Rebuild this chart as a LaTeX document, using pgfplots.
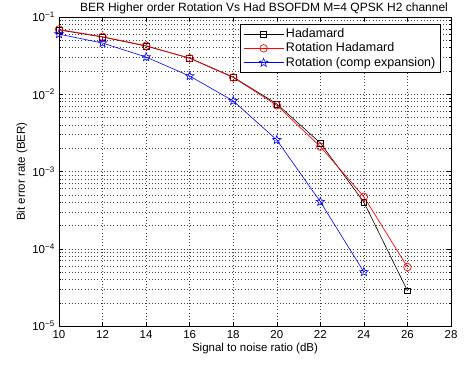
\documentclass[border=0pt]{standalone}
\usepackage{fontspec}
\setmainfont{Liberation Sans}
\usepackage{pgfplots}
\pgfplotsset{compat=1.18}
\pgfdeclareplotmark{pentagram}{%
  \pgfpathmoveto{\pgfqpointpolar{90}{\pgfplotmarksize}}%
  \pgfpathlineto{\pgfqpointpolar{126}{0.42\pgfplotmarksize}}%
  \pgfpathlineto{\pgfqpointpolar{162}{\pgfplotmarksize}}%
  \pgfpathlineto{\pgfqpointpolar{198}{0.42\pgfplotmarksize}}%
  \pgfpathlineto{\pgfqpointpolar{234}{\pgfplotmarksize}}%
  \pgfpathlineto{\pgfqpointpolar{270}{0.42\pgfplotmarksize}}%
  \pgfpathlineto{\pgfqpointpolar{306}{\pgfplotmarksize}}%
  \pgfpathlineto{\pgfqpointpolar{342}{0.42\pgfplotmarksize}}%
  \pgfpathlineto{\pgfqpointpolar{18}{\pgfplotmarksize}}%
  \pgfpathlineto{\pgfqpointpolar{54}{0.42\pgfplotmarksize}}%
  \pgfpathclose
  \pgfusepathqstroke
}
\begin{document}
\fontsize{12}{14}\selectfont
\begin{tikzpicture}
\begin{axis}[
  name=ax,
  scale only axis,
  width=392pt, height=309pt,
  xmin=10, xmax=28, ymin=1e-5, ymax=1e-1,
  ymode=log,
  xtick={10,12,...,28},
  ytick={1e-5,1e-4,1e-3,1e-2,1e-1},
  yticklabels={10\textsuperscript{−5},10\textsuperscript{−4},10\textsuperscript{−3},10\textsuperscript{−2},10\textsuperscript{−1}},
  /pgf/number format/assume math mode=true,
  tick align=inside,
  tick style={black, line width=0.5pt},
  major tick length=4pt, minor tick length=2pt,
  grid=both,
  major grid style={black!75, dash pattern=on 0.6pt off 2.6pt, line width=0.5pt},
  minor grid style={black!75, dash pattern=on 0.6pt off 2.6pt, line width=0.5pt},
  minor x tick num=0,
  axis line style={black, line width=0.9pt},
  tick label style={font=\fontsize{11.5}{13}\selectfont},
  label style={font=\fontsize{11.5}{13}\selectfont},
  xlabel={Signal to noise ratio (dB)},
  ylabel={Bit error rate (BER)},
  xlabel style={yshift=3pt},
  ylabel style={yshift=-3pt},
  title={BER Higher order Rotation Vs Had BSOFDM M=4 QPSK H2 channel},
  title style={font=\fontsize{12}{14}\selectfont, yshift=-7pt, xshift=9pt},
  legend style={at={(0.974,0.977)}, anchor=north east, draw=black, line width=0.9pt, fill=white,
    font=\fontsize{12.5}{14}\selectfont, row sep=-0.5pt, inner xsep=3pt, inner ysep=2pt},
  legend cell align=left,
  legend image code/.code={\draw[#1] (0pt,0pt) -- (40pt,0pt); \draw[#1, only marks] plot coordinates {(20pt,0pt)};},
]
\addplot[black, line width=0.6pt, mark=square, mark size=2.9pt, mark options={solid}] coordinates {
(10,0.068) (12,0.055) (14,0.042) (16,0.0294) (18,0.0167) (20,0.0075) (22,0.00234) (24,0.00040) (26,2.86e-5)};
\addlegendentry{Hadamard}
\addplot[red, line width=0.7pt, mark=o, mark size=3.8pt] coordinates {
(10,0.069) (12,0.0555) (14,0.0425) (16,0.0292) (18,0.0165) (20,0.0072) (22,0.0021) (24,0.00047) (26,5.8e-5)};
\addlegendentry{Rotation Hadamard}
\addplot[blue, line width=0.6pt, mark=pentagram, mark size=4.5pt] coordinates {
(10,0.060) (12,0.046) (14,0.0303) (16,0.0172) (18,0.0082) (20,0.00256) (22,0.000406) (24,5.0e-5)};
\addlegendentry{Rotation (comp expansion)}
\end{axis}
\pgfresetboundingbox
\path (ax.south west) ++(-59pt,-41pt) rectangle ++(465pt,367pt);
\end{tikzpicture}
\end{document}
